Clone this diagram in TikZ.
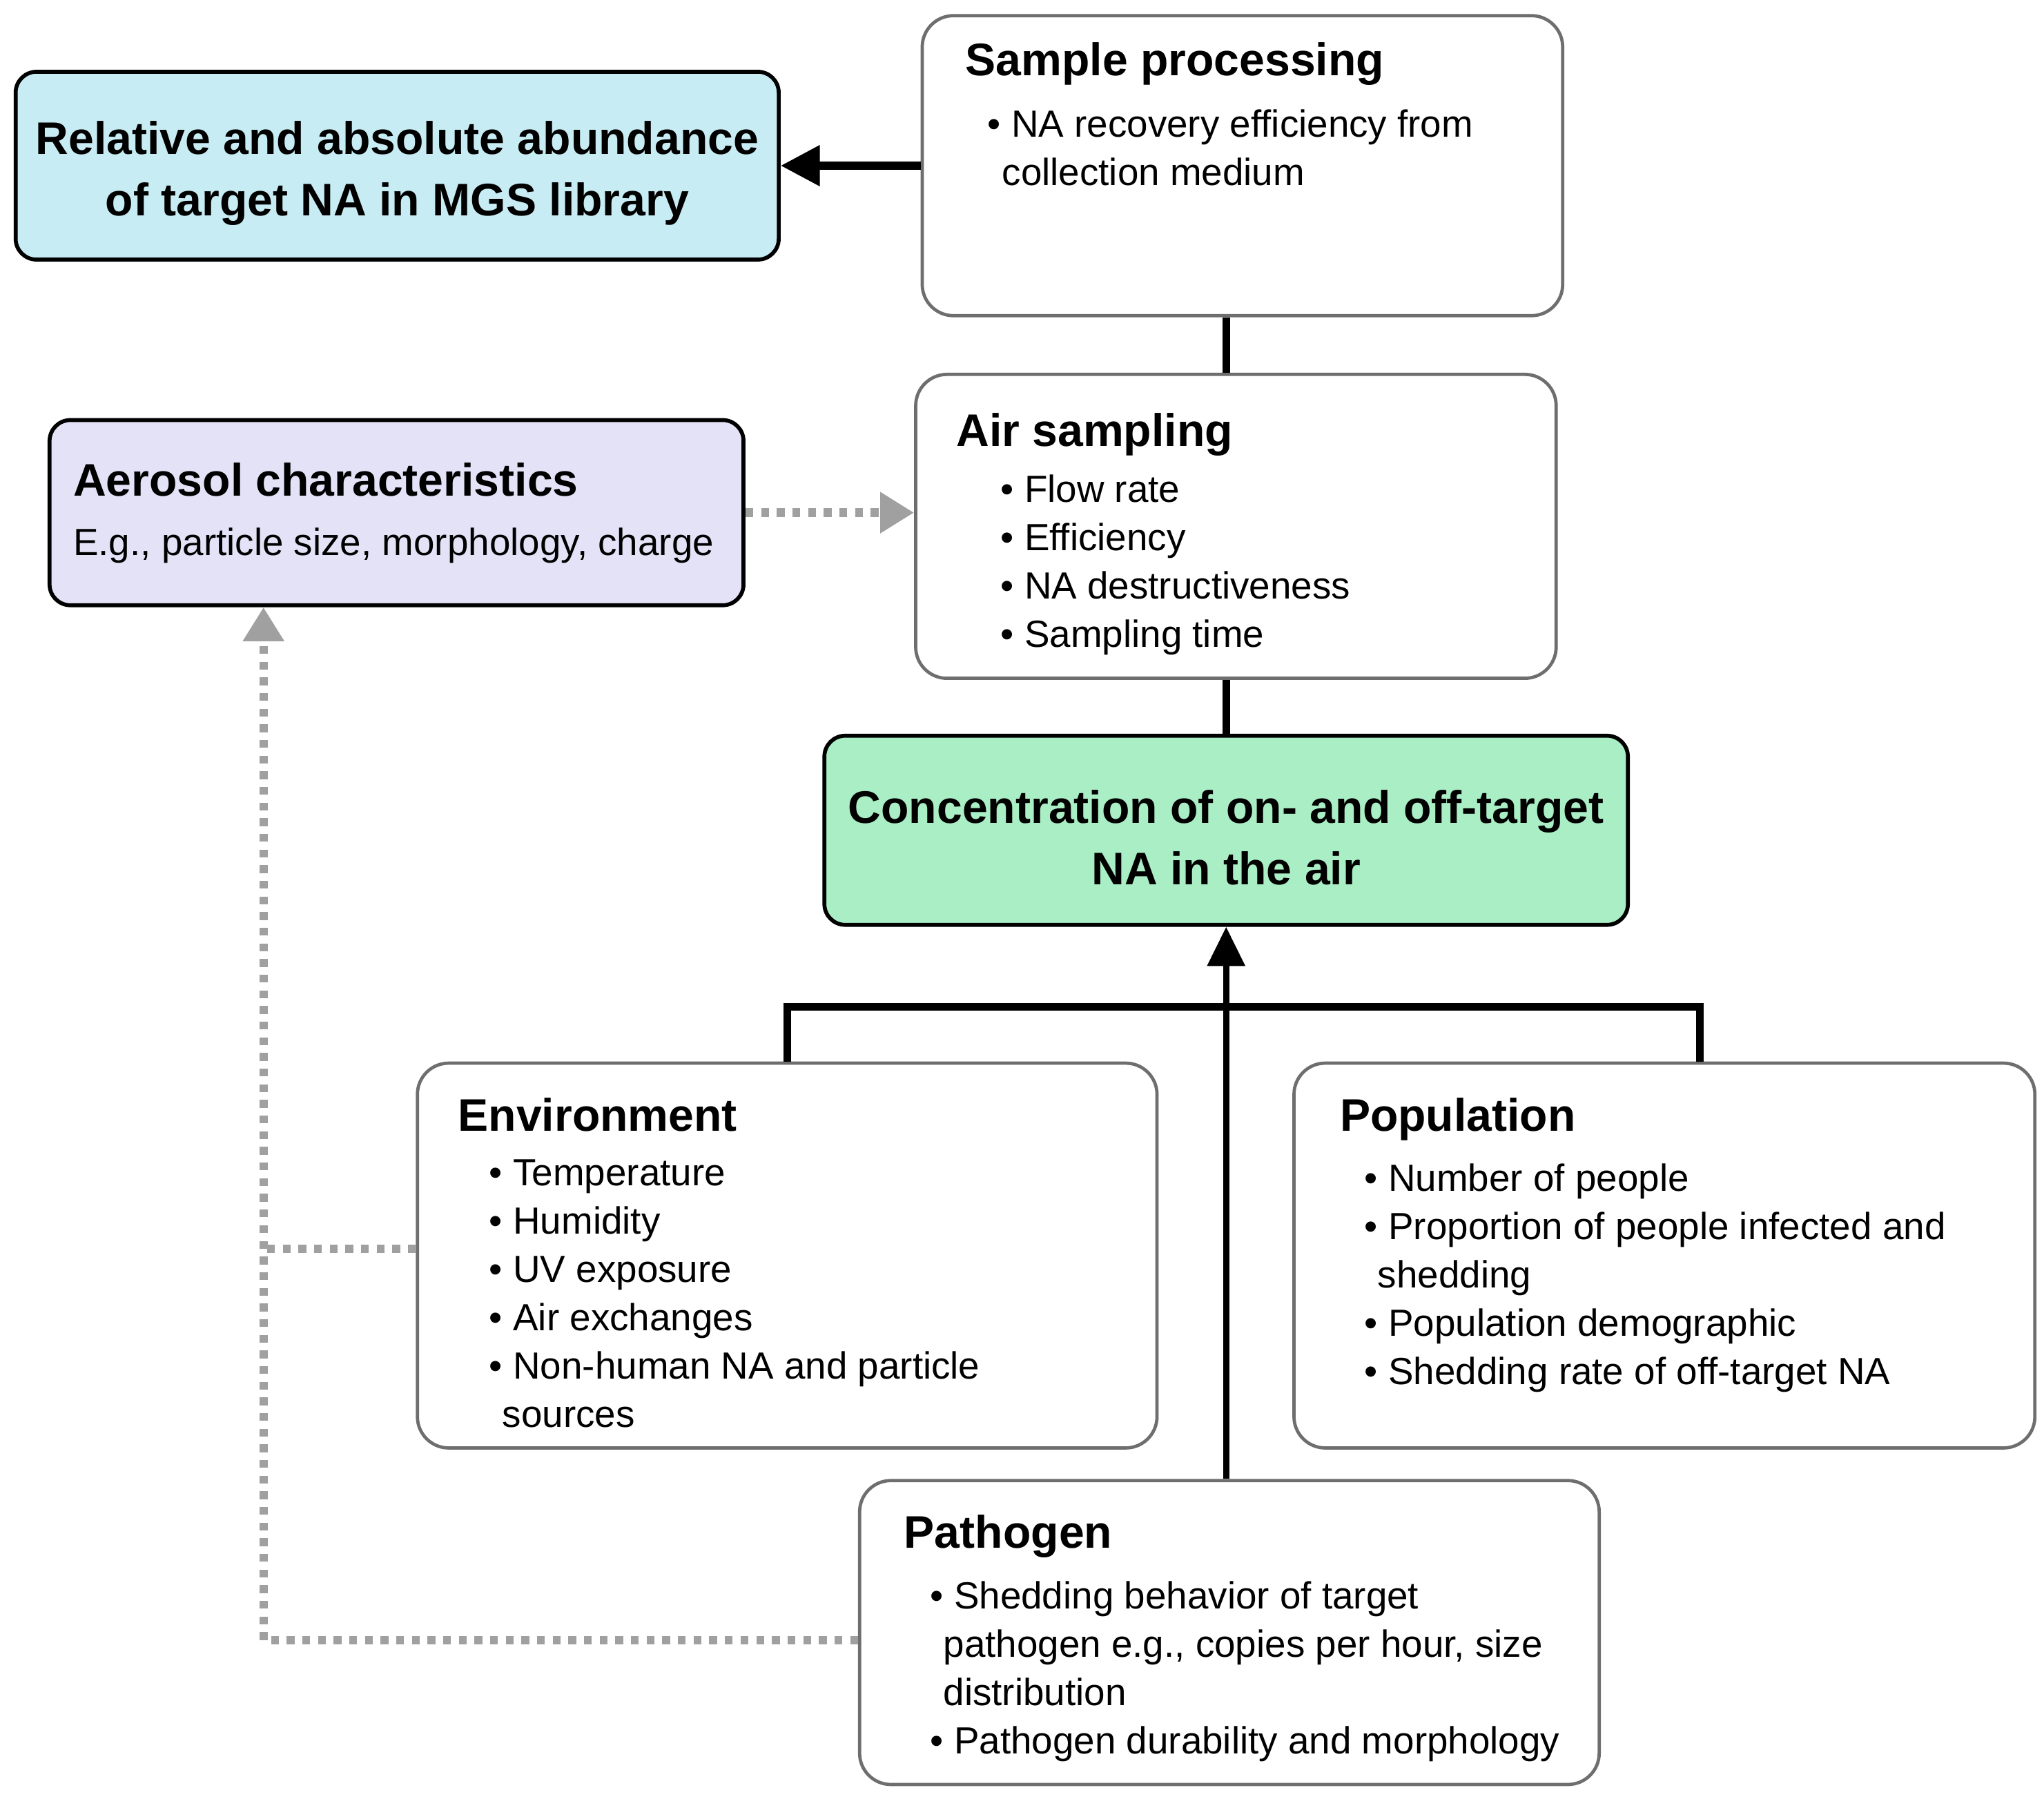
\documentclass[tikz,border=0pt]{standalone}
\usepackage{fontspec}
\setmainfont{Liberation Sans}
\usetikzlibrary{arrows.meta}
\definecolor{aquafill}{HTML}{C8ECF3}
\definecolor{lavfill}{HTML}{E4E2F7}
\definecolor{mintfill}{HTML}{AAEEC5}
\definecolor{edgegray}{HTML}{6E6E6E}
\definecolor{hintgray}{HTML}{A0A0A0}
\newcommand{\headfont}{\bfseries\fontsize{35}{47}\selectfont}
\newcommand{\itemfont}{\fontsize{29}{37}\selectfont}
\begin{document}
\begin{tikzpicture}[x=1pt,y=-1pt,
    plain/.style={draw=edgegray,line width=2.5pt,rounded corners=24pt,fill=white},
    key/.style={draw=black,line width=3pt,rounded corners=16pt},
    link/.style={line width=6pt},
    hint/.style={draw=hintgray,line width=6.5pt,dash pattern=on 6pt off 6pt},
    head/.style={font=\headfont,anchor=base west,inner sep=0},
    items/.style={font=\itemfont,align=left,anchor=north west,inner sep=0}]
  \useasboundingbox (0,0) rectangle (1567,1379);
  % boxes
  \node[key,fill=aquafill,minimum width=585pt,minimum height=144pt] (abund) at (304.5,127) {};
  \node[plain,minimum width=491pt,minimum height=230pt] (sample) at (952.5,127) {};
  \node[plain,minimum width=491pt,minimum height=233pt] (air) at (947.5,403.5) {};
  \node[key,fill=lavfill,minimum width=532pt,minimum height=142pt] (aerosol) at (304,393) {};
  \node[key,fill=mintfill,minimum width=616pt,minimum height=145pt] (conc) at (940,636.5) {};
  \node[plain,minimum width=567pt,minimum height=295pt] (env) at (603.5,962.5) {};
  \node[plain,minimum width=568pt,minimum height=295pt] (pop) at (1276,962.5) {};
  \node[plain,minimum width=567pt,minimum height=233pt] (patho) at (942.5,1251.5) {};
  % texts
  \node[font=\headfont,align=center,inner sep=0] (abundT) at (304.5,133) {Relative and absolute abundance\\of target NA in MGS library};
  \node[font=\headfont,align=center,inner sep=0] (concT) at (940,642) {Concentration of on- and off-target\\NA in the air};
  \node[head] (sampleT) at (740,58) {Sample processing};
  \node[items] (sampleL) at (757,84) {• NA recovery efficiency from\\\hspace{11pt}collection medium};
  \node[head] (airT) at (733,342) {Air sampling};
  \node[items] (airL) at (767,364) {• Flow rate\\• Efficiency\\• NA destructiveness\\• Sampling time};
  \node[head] (aeroT) at (56,380) {Aerosol characteristics};
  \node[font=\itemfont,anchor=base west,inner sep=0] (aeroS) at (56,426) {E.g., particle size, morphology, charge};
  \node[head] (envT) at (351,867) {Environment};
  \node[items] (envL) at (375,889) {• Temperature\\• Humidity\\• UV exposure\\• Air exchanges\\• Non-human NA and particle\\\hspace{10pt}sources};
  \node[head] (popT) at (1027,867) {Population};
  \node[items] (popL) at (1046,892) {• Number of people\\• Proportion of people infected and\\\hspace{10pt}shedding\\• Population demographic\\• Shedding rate of off-target NA};
  \node[head] (pathoT) at (693,1187) {Pathogen};
  \node[items] (pathoL) at (713,1212) {• Shedding behavior of target\\\hspace{10pt}pathogen e.g., copies per hour, size\\\hspace{10pt}distribution\\• Pathogen durability and morphology};
  % connectors
  \draw[link,-{Triangle[length=30pt,width=30pt]}] (sample) -- (abund);
  \draw[link] (sample.south -| conc.north) -- (air.north -| conc.north);
  \draw[link] (air.south -| conc.north) -- (conc.north);
  \draw[link,line width=5pt,-{Triangle[length=30pt,width=28pt]}] (patho.north -| conc.south) -- (conc.south);
  \coordinate (fork) at (940,772);
  \draw[link] (env.north) |- (fork) -| ([xshift=27pt]pop.north);
  \draw[hint,-{Triangle[length=26pt,width=30pt]}] (aerosol.east) -- (aerosol.east -| air.west);
  \draw[hint] ([yshift=5pt]env.west) -- ++(-118,0);
  \draw[hint,-{Triangle[length=26pt,width=30pt]}] ([yshift=-6pt]patho.west) -| ([xshift=-102pt]aerosol.south);
\end{tikzpicture}
\end{document}
